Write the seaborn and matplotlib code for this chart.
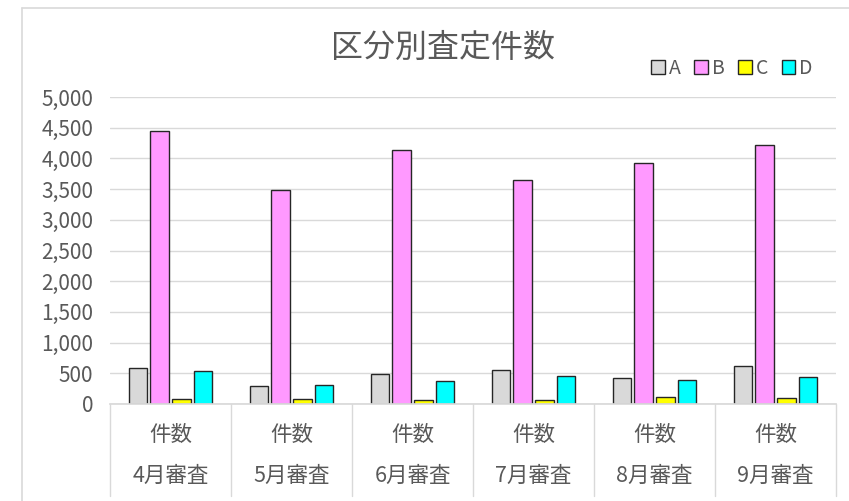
import numpy as np
import pandas as pd
import seaborn as sns
import matplotlib.pyplot as plt
from matplotlib.lines import Line2D
from matplotlib.patches import Patch
from matplotlib.ticker import FuncFormatter, MultipleLocator

sns.set_theme(style="white")
plt.rcParams['font.family'] = ['Noto Sans CJK JP', 'DejaVu Sans']

# data
months = ['4月審査', '5月審査', '6月審査', '7月審査', '8月審査', '9月審査']
sub_label = '件数'
series = ['A', 'B', 'C', 'D']
vals_a = [588, 300, 495, 549, 425, 620]
vals_b = [4440, 3490, 4135, 3653, 3924, 4226]
vals_c = [84, 84, 68, 62, 122, 101]
vals_d = [532, 317, 370, 458, 386, 446]
colors = ['#D9D9D9', '#FF99FF', '#FFFF00', '#00FFFF']

df = pd.DataFrame({
    'month': months * 4,
    'series': np.repeat(series, len(months)),
    'count': vals_a + vals_b + vals_c + vals_d,
})

txt = '#595959'
grid = '#D9D9D9'

fig = plt.figure(figsize=(8.49, 5.01), dpi=100)
ax = fig.add_axes([110 / 849, 1 - 404 / 501, 726 / 849, 307 / 501])

sns.barplot(data=df, x='month', y='count', hue='series', order=months,
            hue_order=series, palette=colors, saturation=1, width=0.72, gap=0.15,
            edgecolor='#262626', linewidth=1.0, ax=ax, legend=False)

ax.set_ylim(0, 5000)
ax.set_xlim(-0.5, len(months) - 0.5)
ax.yaxis.set_major_locator(MultipleLocator(500))
ax.yaxis.set_major_formatter(FuncFormatter(lambda v, p: f'{int(v):,}'))
ax.grid(axis='y', color=grid, linewidth=1)
ax.set_axisbelow(True)
for s in ['top', 'right', 'left']:
    ax.spines[s].set_visible(False)
ax.spines['bottom'].set_color(grid)
ax.tick_params(axis='y', length=0, pad=12, labelsize=15, labelcolor=txt)
ax.tick_params(axis='x', length=0)
ax.set_xticks(range(len(months)))
ax.set_xticklabels([])
ax.set_xlabel('')
ax.set_ylabel('')

# two-level category labels with separators
trans = ax.get_xaxis_transform()
for i, m in enumerate(months):
    ax.text(i, -0.1, sub_label, transform=trans, ha='center', va='center',
            fontsize=15.5, color=txt)
    ax.text(i, -0.235, m, transform=trans, ha='center', va='center',
            fontsize=15.5, color=txt)
for b in np.arange(len(months) + 1) - 0.5:
    ax.add_line(Line2D([b, b], [0, -0.3], transform=trans, color=grid,
                       linewidth=1, clip_on=False))

# title and legend
fig.text(443 / 849, 1 - 48 / 501, '区分別査定件数', ha='center', va='center',
         fontsize=23, color=txt)
handles = [Patch(facecolor=c, edgecolor='#262626', linewidth=1) for c in colors]
fig.legend(handles, series, loc='center', bbox_to_anchor=(732 / 849, 1 - 68 / 501),
           ncol=4, frameon=False, fontsize=14, labelcolor=txt,
           handlelength=0.7, handleheight=0.7, handletextpad=0.2,
           columnspacing=0.7)

# chart border
fig.add_artist(Line2D([22 / 849, 22 / 849], [0, 1 - 8 / 501], color=grid,
                      linewidth=1.2, transform=fig.transFigure))
fig.add_artist(Line2D([22 / 849, 1], [1 - 8 / 501, 1 - 8 / 501], color=grid,
                      linewidth=1.2, transform=fig.transFigure))

fig.savefig('out.png', dpi=100)
